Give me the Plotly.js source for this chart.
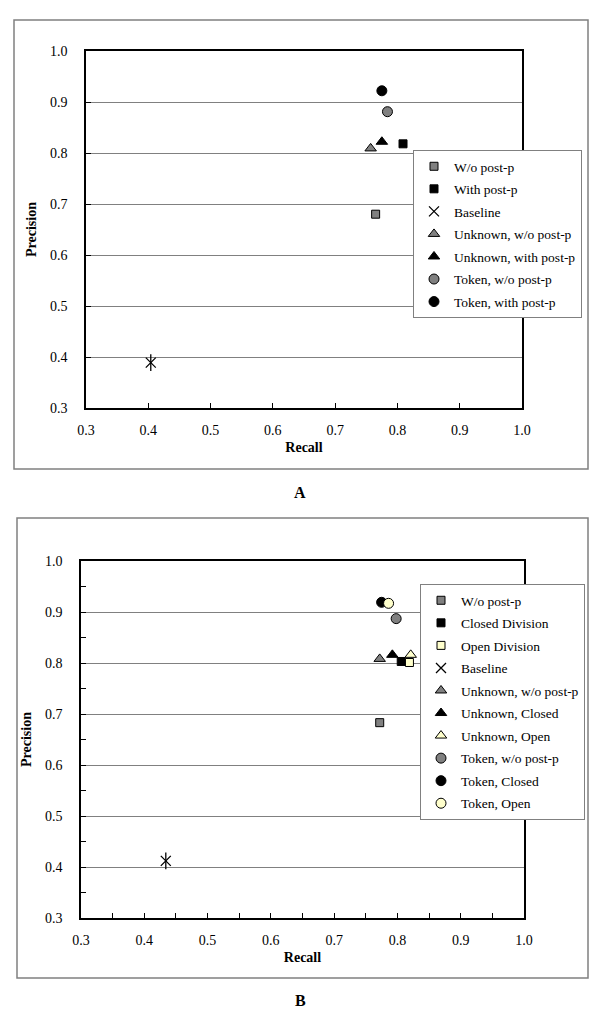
<!DOCTYPE html>
<html>
<head>
<meta charset="utf-8">
<script src="https://cdn.plot.ly/plotly-3.0.1.min.js"></script>
<style>
  html, body { margin: 0; padding: 0; background: #fff; }
  #chart { width: 600px; height: 1016px; }
</style>
</head>
<body>
<div id="chart"></div>
<script>
// ---------- Data: panel A ----------
const seriesA = ["W/o post-p", "With post-p", "Baseline", "Unknown, w/o post-p",
                 "Unknown, with post-p", "Token, w/o post-p", "Token, with post-p"];
const recallA    = [0.765, 0.809, 0.404, 0.757, 0.775, 0.784, 0.775];
const precisionA = [0.680, 0.818, 0.389, 0.809, 0.822, 0.881, 0.922];

// ---------- Data: panel B ----------
const seriesB = ["W/o post-p", "Closed Division", "Open Division", "Baseline",
                 "Unknown, w/o post-p", "Unknown, Closed", "Unknown, Open",
                 "Token, w/o post-p", "Token, Closed", "Token, Open"];
const recallB    = [0.772, 0.806, 0.819, 0.434, 0.772, 0.792, 0.821, 0.798, 0.775, 0.786];
const precisionB = [0.683, 0.803, 0.801, 0.412, 0.808, 0.816, 0.816, 0.887, 0.919, 0.917];

// ---------- Axis ticks ----------
const tickVals = [0.3, 0.4, 0.5, 0.6, 0.7, 0.8, 0.9, 1.0];
const tickText = ["0.3", "0.4", "0.5", "0.6", "0.7", "0.8", "0.9", "1.0"];
const panelLabels = ["A", "B"];

const SERIF = '"Liberation Serif", "Times New Roman", serif';
const W = 600, H = 1016;

function styleOf(name) {
  let symbol = "square", size = 8;
  if (name.startsWith("Unknown")) { symbol = "triangle-up"; size = 10; }
  else if (name.startsWith("Token")) { symbol = "circle"; size = 10; }
  let color = "#000000";
  if (/w\/o/i.test(name)) color = "#808080";
  else if (/Open/.test(name)) color = "#FFFFCC";
  return { symbol, size, color };
}

function buildTraces(names, xs, ys, xa, ya, legendId, prefix) {
  const traces = [];
  names.forEach((name, i) => {
    const grp = prefix + i;
    if (name === "Baseline") {
      traces.push({
        type: "scatter", mode: "markers", name: name,
        x: [xs[i]], y: [ys[i]], xaxis: xa, yaxis: ya, legend: legendId,
        legendgroup: grp,
        marker: { symbol: "x-thin-open", size: 10, color: "#000", line: { color: "#000", width: 1.3 } },
        hoverinfo: "x+y+name"
      });
      traces.push({
        type: "scatter", mode: "markers", name: name,
        x: [xs[i]], y: [ys[i]], xaxis: xa, yaxis: ya, legend: legendId,
        legendgroup: grp, showlegend: false,
        marker: { symbol: "line-ns-open", size: 12, color: "#000", line: { color: "#000", width: 1.3 } },
        hoverinfo: "skip"
      });
    } else {
      const s = styleOf(name);
      traces.push({
        type: "scatter", mode: "markers", name: name,
        x: [xs[i]], y: [ys[i]], xaxis: xa, yaxis: ya, legend: legendId,
        legendgroup: grp,
        marker: { symbol: s.symbol, size: s.size, color: s.color, line: { color: "#000", width: 1 } },
        hoverinfo: "x+y+name"
      });
    }
  });
  return traces;
}

const traces = [].concat(
  buildTraces(seriesA, recallA, precisionA, "x", "y", "legend", "a"),
  buildTraces(seriesB, recallB, precisionB, "x2", "y2", "legend2", "b")
);

function px(xPix) { return xPix / W; }
function py(yPix) { return 1 - yPix / H; }

const tickFont = { family: SERIF, size: 14, color: "#000" };
const titleFont = { family: SERIF, size: 14, color: "#000", weight: "bold" };

function xAxis(domain, anchor, minor) {
  const ax = {
    domain: domain, anchor: anchor, range: [0.3, 1.0],
    tickvals: tickVals, ticktext: tickText,
    ticks: "inside", ticklen: 5, tickcolor: "#000", tickwidth: 1,
    showline: true, mirror: true, linecolor: "#000", linewidth: 1.5,
    showgrid: false, zeroline: false,
    tickfont: tickFont, ticklabelstandoff: 8,
    title: { text: "<b>Recall</b>", font: titleFont, standoff: 6 },
    fixedrange: true
  };
  if (minor) ax.minor = { ticks: "inside", ticklen: 5, tickcolor: "#000", dtick: 0.05, tick0: 0.3, showgrid: false };
  return ax;
}
function yAxis(domain, anchor, minor) {
  const ax = {
    domain: domain, anchor: anchor, range: [0.3, 1.0],
    tickvals: tickVals, ticktext: tickText,
    ticks: "inside", ticklen: 5, tickcolor: "#000", tickwidth: 1,
    showline: true, mirror: true, linecolor: "#000", linewidth: 1.5,
    showgrid: true, gridcolor: "#808080", gridwidth: 1, zeroline: false,
    tickfont: tickFont, ticklabelstandoff: 14,
    title: { text: "<b>Precision</b>", font: titleFont, standoff: 10 },
    fixedrange: true
  };
  if (minor) ax.minor = { ticks: "inside", ticklen: 5, tickcolor: "#000", dtick: 0.05, tick0: 0.3, showgrid: false };
  return ax;
}

const legendFont = { family: SERIF, size: 13.5, color: "#000" };

const layout = {
  width: W, height: H,
  margin: { l: 0, r: 0, t: 0, b: 0 },
  paper_bgcolor: "#ffffff", plot_bgcolor: "#ffffff",
  font: { family: SERIF, color: "#000" },
  showlegend: true,
  xaxis:  xAxis([px(86), px(522)], "y", false),
  yaxis:  yAxis([py(408), py(51)], "x", false),
  xaxis2: xAxis([px(81), px(524)], "y2", true),
  yaxis2: yAxis([py(918), py(561)], "x2", true),
  legend: {
    x: px(413), xanchor: "left", y: py(150), yanchor: "top",
    bgcolor: "#ffffff", bordercolor: "#808080", borderwidth: 1,
    font: legendFont, traceorder: "grouped", tracegroupgap: 2,
    itemclick: false, itemdoubleclick: false
  },
  legend2: {
    x: px(420), xanchor: "left", y: py(584), yanchor: "top",
    bgcolor: "#ffffff", bordercolor: "#808080", borderwidth: 1,
    font: legendFont, traceorder: "grouped", tracegroupgap: 2,
    itemclick: false, itemdoubleclick: false
  },
  shapes: [
    { type: "rect", xref: "paper", yref: "paper", layer: "below",
      x0: px(14), x1: px(588), y0: py(469), y1: py(20),
      line: { color: "#808080", width: 1.5 }, fillcolor: "rgba(0,0,0,0)" },
    { type: "rect", xref: "paper", yref: "paper", layer: "below",
      x0: px(17), x1: px(588), y0: py(978), y1: py(518),
      line: { color: "#808080", width: 1.5 }, fillcolor: "rgba(0,0,0,0)" }
  ],
  annotations: [
    { text: "<b>" + panelLabels[0] + "</b>", xref: "paper", yref: "paper",
      x: 0.5, y: py(492), xanchor: "center", yanchor: "middle", showarrow: false,
      font: { family: SERIF, size: 16, color: "#000" } },
    { text: "<b>" + panelLabels[1] + "</b>", xref: "paper", yref: "paper",
      x: 0.5, y: py(1000), xanchor: "center", yanchor: "middle", showarrow: false,
      font: { family: SERIF, size: 16, color: "#000" } }
  ]
};

Plotly.newPlot("chart", traces, layout, { displayModeBar: false, staticPlot: false, responsive: false });
</script>
</body>
</html>
